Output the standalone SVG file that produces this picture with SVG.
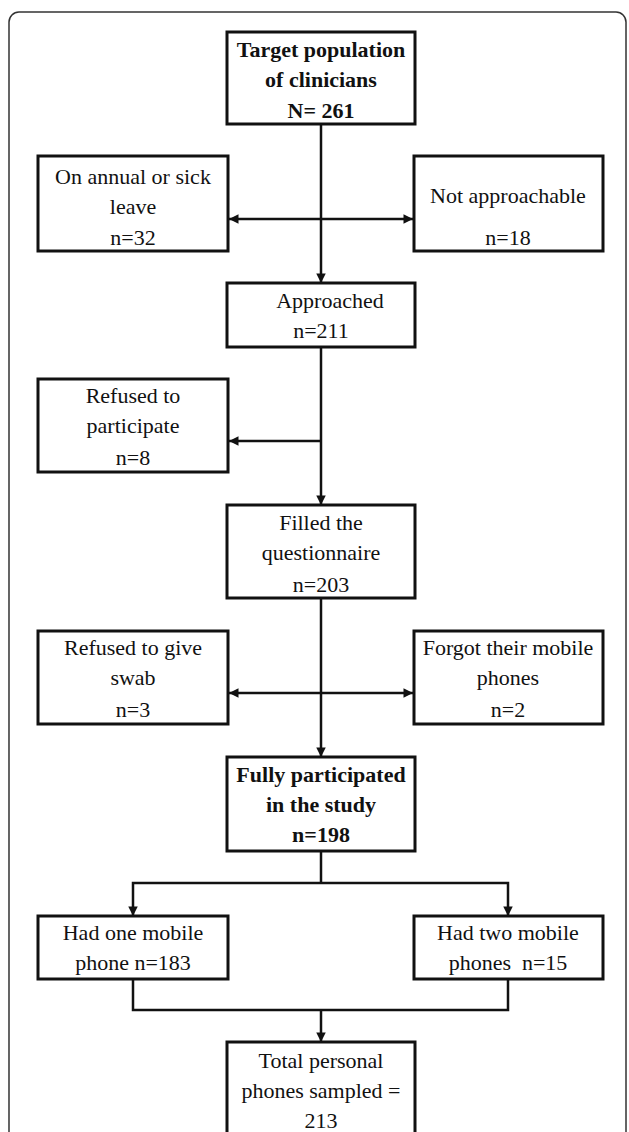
<svg xmlns="http://www.w3.org/2000/svg" width="629" height="1132" viewBox="0 0 629 1132">
<style>
.box{fill:#fff;stroke:#111;stroke-width:3}
.ln{fill:none;stroke:#111;stroke-width:2.5}
text{font-family:"Liberation Serif","Times New Roman",serif;font-size:22px;fill:#111;text-anchor:middle}
.b{font-weight:bold}
</style>
<defs>
<marker id="ah" viewBox="0 0 10 10" refX="10" refY="5" markerWidth="4" markerHeight="3.8" orient="auto-start-reverse" markerUnits="strokeWidth">
<path d="M0,0 L10,5 L0,10 Z" fill="#111"/>
</marker>
</defs>
<rect x="0" y="0" width="629" height="1132" fill="#fff"/>
<rect id="frame" x="9" y="12" width="617" height="1140" rx="10" fill="none" stroke="#333" stroke-width="1.5"/>
<g id="connectors">
<line class="ln" x1="321" y1="124" x2="321" y2="283" marker-end="url(#ah)"/>
<line class="ln" x1="229" y1="219" x2="413" y2="219" marker-start="url(#ah)" marker-end="url(#ah)"/>
<line class="ln" x1="321" y1="347" x2="321" y2="505" marker-end="url(#ah)"/>
<line class="ln" x1="321" y1="441" x2="229" y2="441" marker-end="url(#ah)"/>
<line class="ln" x1="321" y1="598" x2="321" y2="757" marker-end="url(#ah)"/>
<line class="ln" x1="229" y1="693" x2="413" y2="693" marker-start="url(#ah)" marker-end="url(#ah)"/>
<polyline class="ln" points="321,851 321,883"/>
<polyline class="ln" points="133,916 133,883 508,883 508,916" marker-start="url(#ah)" marker-end="url(#ah)"/>
<polyline class="ln" points="133,979 133,1010 508,1010 508,979"/>
<line class="ln" x1="321" y1="1010" x2="321" y2="1042" marker-end="url(#ah)"/>
</g>
<g id="n-target">
<rect class="box" x="227" y="32" width="188" height="92"/>
<text class="b" x="321" y="57">Target population</text>
<text class="b" x="321" y="87">of clinicians</text>
<text class="b" x="321" y="118">N= 261</text>
</g>
<g id="n-leave">
<rect class="box" x="38" y="156" width="190" height="95"/>
<text x="133" y="184">On annual or sick</text>
<text x="133" y="214">leave</text>
<text x="133" y="245">n=32</text>
</g>
<g id="n-notappr">
<rect class="box" x="414" y="156" width="189" height="95"/>
<text x="508" y="203">Not approachable</text>
<text x="508" y="245">n=18</text>
</g>
<g id="n-approached">
<rect class="box" x="227" y="283" width="188" height="64"/>
<text x="330" y="308">Approached</text>
<text x="321" y="338">n=211</text>
</g>
<g id="n-refused">
<rect class="box" x="38" y="379" width="190" height="93"/>
<text x="133" y="403">Refused to</text>
<text x="133" y="433">participate</text>
<text x="133" y="465">n=8</text>
</g>
<g id="n-filled">
<rect class="box" x="227" y="505" width="188" height="93"/>
<text x="321" y="530">Filled the</text>
<text x="321" y="560">questionnaire</text>
<text x="321" y="592">n=203</text>
</g>
<g id="n-swab">
<rect class="box" x="38" y="631" width="190" height="93"/>
<text x="133" y="655">Refused to give</text>
<text x="133" y="685">swab</text>
<text x="133" y="717">n=3</text>
</g>
<g id="n-forgot">
<rect class="box" x="414" y="631" width="189" height="93"/>
<text x="508" y="655">Forgot their mobile</text>
<text x="508" y="685">phones</text>
<text x="508" y="717">n=2</text>
</g>
<g id="n-fully">
<rect class="box" x="227" y="757" width="188" height="94"/>
<text class="b" x="321" y="782">Fully participated</text>
<text class="b" x="321" y="812">in the study</text>
<text class="b" x="321" y="842">n=198</text>
</g>
<g id="n-one">
<rect class="box" x="38" y="916" width="190" height="63"/>
<text x="133" y="940">Had one mobile</text>
<text x="133" y="970">phone n=183</text>
</g>
<g id="n-two">
<rect class="box" x="414" y="916" width="189" height="63"/>
<text x="508" y="940">Had two mobile</text>
<text x="508" y="970" xml:space="preserve">phones  n=15</text>
</g>
<g id="n-total">
<rect class="box" x="227" y="1042" width="188" height="100"/>
<text x="321" y="1068">Total personal</text>
<text x="321" y="1098">phones sampled =</text>
<text x="321" y="1128">213</text>
</g>
</svg>
